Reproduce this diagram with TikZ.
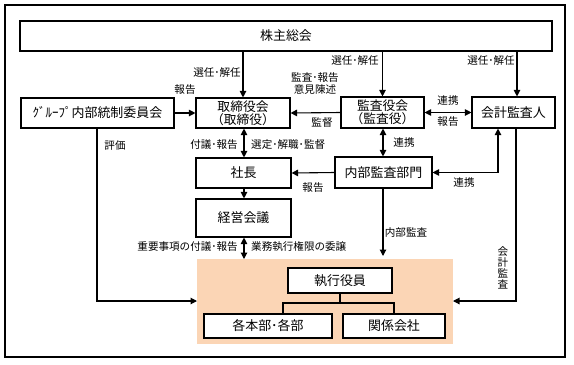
\documentclass[tikz,border=0pt]{standalone}
\usepackage{fontspec}
\newfontfamily\jp{Noto Sans CJK JP}
\usetikzlibrary{arrows.meta}
\definecolor{salmon}{RGB}{251,213,181}
\tikzset{
  box/.style={draw, line width=1.1bp, fill=white, inner sep=0pt, align=center, font=\jp\fontsize{13}{14}\selectfont},
  lbl/.style={inner sep=0pt, font=\jp\fontsize{10.6}{11.5}\selectfont, align=center},
  conn/.style={line width=1.1bp},
  arr/.style={conn, -{Triangle[width=6.5bp,length=6.5bp]}},
  darr/.style={conn, {Triangle[width=6.5bp,length=6.5bp]}-{Triangle[width=6.5bp,length=6.5bp]}}
}
\begin{document}
\begin{tikzpicture}[x=1bp,y=-1bp]
\useasboundingbox (0,0) rectangle (574,364);
\draw[line width=2bp] (5,5) rectangle (564.5,357);
\fill[salmon] (197,259) rectangle (453,344);

\node[box, minimum width=532bp, minimum height=30bp] (share) at (286,36) {株主総会};
\node[box, minimum width=94bp, minimum height=30bp, font=\jp\fontsize{12.8}{13.5}\selectfont] (board) at (243,113) {取締役会\\（取締役）};
\node[box, minimum width=153bp, minimum height=30bp] (group) at (97.5,113) {ｸﾞﾙｰﾌﾟ内部統制委員会};
\node[box, minimum width=83bp, minimum height=31bp, font=\jp\fontsize{12.8}{13.5}\selectfont] (kansa) at (382.5,112.5) {監査役会\\（監査役）};
\node[box, minimum width=83bp, minimum height=31bp] (kaikei) at (513.5,112.5) {会計監査人};
\node[box, minimum width=95bp, minimum height=30bp] (pres) at (243.5,173) {社長};
\node[box, minimum width=95bp, minimum height=38bp] (keiei) at (243.5,218) {経営会議};
\node[box, minimum width=97bp, minimum height=31bp] (naibu) at (383.5,172.5) {内部監査部門};
\node[box, minimum width=104bp, minimum height=25bp] (shikko) at (340,280.5) {執行役員};
\node[box, minimum width=128bp, minimum height=24bp] (honbu) at (268,326) {各本部･各部};
\node[box, minimum width=102bp, minimum height=24bp] (kankei) at (394,326) {関係会社};

% shareholders arrows
\draw[arr] (share.south -| board) -- (board.north);
\draw[arr] (share.south -| kansa) -- (kansa.north);
\coordinate (kk) at (517,0);
\draw[arr] (share.south -| kk) -- (kaikei.north -| kk);
\node[lbl, anchor=east] (l1) at (241,72) {選任･解任};
\node[lbl, anchor=east] (l2) at (379,60) {選任･解任};
\node[lbl, anchor=east] (l3) at (515,60) {選任･解任};

% group -> board
\draw[arr] (group.east) -- (board.west);
\node[lbl] (l4) at (185,90) {報告};
% kansa -> board
\draw[arr] (kansa.west) -- (board.east);
\node[lbl] (l5) at (315,83.5) {監査･報告\\意見陳述};
\node[lbl] (l6) at (322,122) {監督};
% kansa <-> kaikei
\draw[darr] (kansa.east) -- (kaikei.west);
\node[lbl] (l7) at (448,100) {連携};
\node[lbl] (l8) at (448,122) {報告};
% board <-> pres
\draw[darr] (board.south -| 244,0) -- (pres.north -| 244,0);
\node[lbl, anchor=east] (l9) at (238,145) {付議･報告};
\node[lbl, anchor=west] (l10) at (251,145) {選定･解職･監督};
% pres -> keiei
\draw[arr] (pres.south -| 244,0) -- (keiei.north -| 244,0);
% keiei <-> salmon
\coordinate (salT) at (244,259);
\draw[darr] (keiei.south -| 244,0) -- (salT);
\node[lbl, anchor=east] (l11) at (238,247) {重要事項の付議･報告};
\node[lbl, anchor=west] (l12) at (251,247) {業務執行権限の委譲};
% kansa <-> naibu
\draw[darr] (kansa.south -| 383,0) -- (naibu.north -| 383,0);
\node[lbl] (l13) at (404,142) {連携};
% naibu -> pres
\draw[arr] (naibu.west) -- (pres.east);
\node[lbl] (l14) at (313,188) {報告};
% naibu <-> kaikei
\coordinate (kk2) at (498,0);
\draw[darr] (naibu.east) -- (naibu.east -| kk2) -- (kaikei.south -| kk2);
\node[lbl] (l15) at (464,182) {連携};
% naibu -> salmon
\coordinate (salN) at (383,256);
\draw[arr] (naibu.south -| 383,0) -- (salN);
\node[lbl] (l16) at (406,232) {内部監査};
% group -> salmon
\coordinate (salW) at (197,301);
\draw[arr] (group.south -| 97,0) -- (97,301) -- (salW);
\node[lbl] (l17) at (115,145) {評価};
% kaikei -> salmon
\coordinate (salE) at (453,301);
\draw[arr] (kaikei.south -| 516,0) -- (516,301) -- (salE);
\node[lbl, font=\jp\fontsize{10.6}{11.2}\selectfont] (l18) at (503,268) {会\\計\\監\\査};
% tree
\coordinate (tb) at (340,303);
\draw[conn] (shikko.south) -- (tb);
\draw[conn] (283,314) -- (283,303) -- (394,303) -- (394,314);
\end{tikzpicture}
\end{document}
